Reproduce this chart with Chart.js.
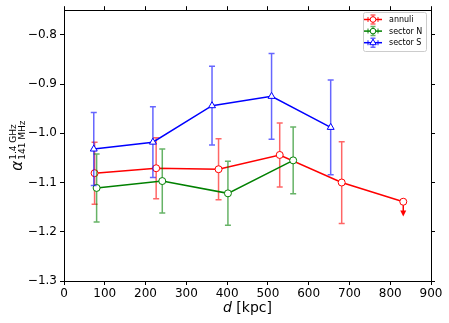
<!DOCTYPE html>
<html>
<head>
<meta charset="utf-8">
<script src="https://cdn.jsdelivr.net/npm/chart.js@4"></script>
<style>
  html, body { margin: 0; padding: 0; background: #fff; }
  #wrap { width: 449px; height: 323px; }
</style>
</head>
<body>
<div id="wrap"><canvas id="myChart" width="449" height="323"></canvas></div>
<script>
// distances in kpc and spectral index values
const annuliD = [75, 226, 379, 529, 681, 832];
const annuliAlpha = [-1.081, -1.071, -1.073, -1.044, -1.100, -1.139];
const annuliErr = [0.063, 0.062, 0.062, 0.065, 0.083, 0.03];
const annuliUpLim = [false, false, false, false, false, true];

const sectorND = [80, 241, 402, 562];
const sectorNAlpha = [-1.111, -1.097, -1.122, -1.055];
const sectorNErr = [0.069, 0.065, 0.065, 0.068];

const sectorSD = [73, 218, 363, 509, 654];
const sectorSAlpha = [-1.032, -1.018, -0.944, -0.925, -0.988];
const sectorSErr = [0.074, 0.072, 0.080, 0.087, 0.096];

const xTicks = [0, 100, 200, 300, 400, 500, 600, 700, 800, 900];
const yTicks = [-1.3, -1.2, -1.1, -1.0, -0.9, -0.8];

const seriesNames = ['annuli', 'sector N', 'sector S'];
const seriesColors = ['#ff0000', '#008000', '#0000ff'];

Chart.defaults.font.family = "'DejaVu Sans', sans-serif";
Chart.defaults.color = '#000';

const toPoints = (xs, ys) => xs.map((v, i) => ({ x: v, y: ys[i] }));
const fmt = v => v.toFixed(1).replace('-', '\u2212');

// vertical error bars (and the upper-limit arrow) under each series
const errorBars = {
  id: 'errorBars',
  beforeDatasetDraw(chart, args) {
    const ds = chart.data.datasets[args.index];
    if (!ds.errs) return;
    const xs = chart.scales.x, ys = chart.scales.y, ctx = chart.ctx;
    ctx.save();
    ctx.strokeStyle = ds.borderColor;
    ctx.fillStyle = ds.borderColor;
    ctx.lineWidth = 1.5;
    ds.data.forEach((p, i) => {
      const px = xs.getPixelForValue(p.x);
      const py = ys.getPixelForValue(p.y);
      if (ds.upLims && ds.upLims[i]) {
        const tip = ys.getPixelForValue(p.y - ds.errs[i]);
        ctx.globalAlpha = 1;
        ctx.beginPath();
        ctx.moveTo(px, py);
        ctx.lineTo(px, tip - 5);
        ctx.stroke();
        ctx.beginPath();
        ctx.moveTo(px - 3, tip - 6);
        ctx.lineTo(px + 3, tip - 6);
        ctx.lineTo(px, tip);
        ctx.closePath();
        ctx.fill();
        return;
      }
      const top = ys.getPixelForValue(p.y + ds.errs[i]);
      const bot = ys.getPixelForValue(p.y - ds.errs[i]);
      ctx.globalAlpha = 0.6;
      ctx.beginPath();
      ctx.moveTo(px, top); ctx.lineTo(px, bot);
      ctx.moveTo(px - 3, top); ctx.lineTo(px + 3, top);
      ctx.moveTo(px - 3, bot); ctx.lineTo(px + 3, bot);
      ctx.stroke();
    });
    ctx.restore();
  }
};

// axis titles and the boxed legend, matplotlib style
const decorations = {
  id: 'decorations',
  afterDraw(chart) {
    const ctx = chart.ctx;
    const area = chart.chartArea;
    ctx.save();
    ctx.fillStyle = '#000';
    ctx.textBaseline = 'alphabetic';

    // x title: italic d + [kpc]
    ctx.font = "italic 14px 'DejaVu Sans'";
    const wD = ctx.measureText('d').width;
    ctx.font = "14px 'DejaVu Sans'";
    const wRest = ctx.measureText(' [kpc]').width;
    const cx = (area.left + area.right) / 2;
    let sx = cx - (wD + wRest) / 2;
    ctx.font = "italic 14px 'DejaVu Sans'";
    ctx.fillText('d', sx, 312);
    ctx.font = "14px 'DejaVu Sans'";
    ctx.fillText(' [kpc]', sx + wD, 312);

    // y title: alpha with super/subscript, rotated
    ctx.save();
    ctx.translate(22, (area.top + area.bottom) / 2);
    ctx.rotate(-Math.PI / 2);
    ctx.font = "italic 15px 'DejaVu Sans'";
    const wA = ctx.measureText('\u03b1').width;
    ctx.font = "9px 'DejaVu Sans'";
    const wSup = ctx.measureText('1.4 GHz').width;
    const wSub = ctx.measureText('141 MHz').width;
    const total = wA + 1 + Math.max(wSup, wSub);
    const ax = -total / 2;
    ctx.font = "italic 15px 'DejaVu Sans'";
    ctx.fillText('\u03b1', ax, 0);
    ctx.font = "9px 'DejaVu Sans'";
    ctx.fillText('1.4 GHz', ax + wA + 1, -6);
    ctx.fillText('141 MHz', ax + wA + 1, 3);
    ctx.restore();

    // legend box
    const bx = 363, by = 12, bw = 63, bh = 39;
    ctx.globalAlpha = 0.8;
    ctx.fillStyle = '#fff';
    ctx.beginPath();
    ctx.roundRect(bx + 0.5, by + 0.5, bw, bh, 2);
    ctx.fill();
    ctx.globalAlpha = 1;
    ctx.strokeStyle = '#cccccc';
    ctx.lineWidth = 1;
    ctx.stroke();

    chart.data.datasets.forEach((ds, k) => {
      const row = seriesNames.indexOf(ds.label);
      const ry = 19.5 + row * 11.6;
      const hx = 373;
      ctx.strokeStyle = ds.borderColor;
      ctx.lineWidth = 1.5;
      ctx.beginPath();
      ctx.moveTo(hx - 9, ry); ctx.lineTo(hx + 9, ry);
      ctx.stroke();
      ctx.globalAlpha = 0.6;
      ctx.beginPath();
      ctx.moveTo(hx - 5, ry - 2.5); ctx.lineTo(hx - 5, ry + 2.5);
      ctx.moveTo(hx + 5, ry - 2.5); ctx.lineTo(hx + 5, ry + 2.5);
      ctx.moveTo(hx, ry - 4.5); ctx.lineTo(hx, ry + 4.5);
      ctx.moveTo(hx - 2.5, ry - 4.5); ctx.lineTo(hx + 2.5, ry - 4.5);
      ctx.moveTo(hx - 2.5, ry + 4.5); ctx.lineTo(hx + 2.5, ry + 4.5);
      ctx.stroke();
      ctx.globalAlpha = 1;
      ctx.fillStyle = '#fff';
      ctx.lineWidth = 1;
      ctx.beginPath();
      if (ds.pointStyle === 'triangle') {
        ctx.moveTo(hx, ry - 3.5); ctx.lineTo(hx + 3.2, ry + 2); ctx.lineTo(hx - 3.2, ry + 2);
        ctx.closePath();
      } else {
        ctx.arc(hx, ry, 2.8, 0, Math.PI * 2);
      }
      ctx.fill();
      ctx.stroke();
      ctx.fillStyle = '#000';
      ctx.font = "8px 'DejaVu Sans'";
      ctx.textBaseline = 'middle';
      ctx.fillText(ds.label, 389, ry + 0.5);
    });
    ctx.restore();
  }
};

function makeSeries(i, xs, ys, errs, style, order, upLims) {
  return {
    label: seriesNames[i],
    data: toPoints(xs, ys),
    errs: errs,
    upLims: upLims,
    borderColor: seriesColors[i],
    backgroundColor: seriesColors[i],
    borderWidth: 1.5,
    pointStyle: style,
    pointRadius: style === 'triangle' ? 4 : 3.5,
    pointBackgroundColor: '#fff',
    pointBorderColor: seriesColors[i],
    pointBorderWidth: 1,
    tension: 0,
    order: order
  };
}

const tickGrid = { drawOnChartArea: false, drawTicks: true, tickLength: 4, color: '#000' };
const axisBorder = { display: true, color: '#000', width: 1 };

new Chart(document.getElementById('myChart').getContext('2d'), {
  type: 'line',
  data: {
    datasets: [
      makeSeries(0, annuliD, annuliAlpha, annuliErr, 'circle', 3, annuliUpLim),
      makeSeries(1, sectorND, sectorNAlpha, sectorNErr, 'circle', 2),
      makeSeries(2, sectorSD, sectorSAlpha, sectorSErr, 'triangle', 1)
    ]
  },
  options: {
    responsive: false,
    animation: false,
    layout: { padding: 0 },
    plugins: { legend: { display: false }, tooltip: { enabled: false } },
    scales: {
      x: {
        type: 'linear', position: 'bottom', min: 0, max: 900,
        grid: tickGrid, border: axisBorder,
        afterBuildTicks: s => { s.ticks = xTicks.map(v => ({ value: v })); },
        afterFit: s => { s.height = 42; },
        ticks: { font: { size: 12 }, padding: 2, maxRotation: 0, callback: v => String(v) }
      },
      x2: {
        type: 'linear', position: 'top', min: 0, max: 900,
        grid: tickGrid, border: axisBorder,
        afterBuildTicks: s => { s.ticks = xTicks.map(v => ({ value: v })); },
        afterFit: s => { s.height = 9; },
        ticks: { display: false }
      },
      y: {
        type: 'linear', position: 'left', min: -1.3, max: -0.75,
        grid: tickGrid, border: axisBorder,
        afterBuildTicks: s => { s.ticks = yTicks.map(v => ({ value: v })); },
        afterFit: s => { s.width = 64; },
        ticks: { font: { size: 12 }, padding: 3, callback: v => fmt(v) }
      },
      y2: {
        type: 'linear', position: 'right', min: -1.3, max: -0.75,
        grid: tickGrid, border: axisBorder,
        afterBuildTicks: s => { s.ticks = yTicks.map(v => ({ value: v })); },
        afterFit: s => { s.width = 18; },
        ticks: { display: false }
      }
    }
  },
  plugins: [errorBars, decorations]
});
</script>
</body>
</html>
